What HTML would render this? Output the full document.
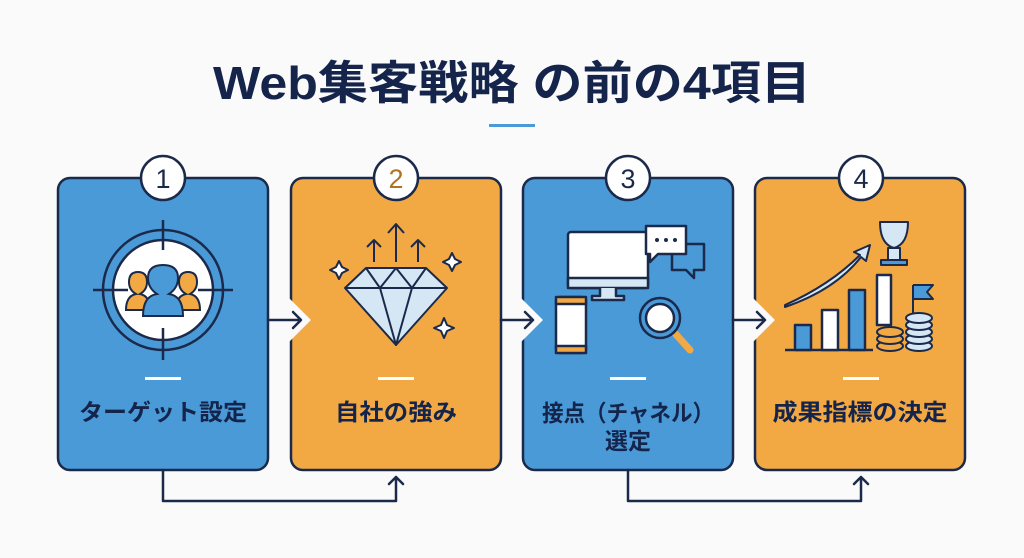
<!DOCTYPE html>
<html><head><meta charset="utf-8"><style>
body{margin:0;background:#fafafa;}
svg{display:block;font-family:"Liberation Sans","Noto Sans CJK JP",sans-serif;}
</style></head><body>
<svg width="1024" height="558" viewBox="0 0 1024 558" xmlns="http://www.w3.org/2000/svg">
<rect width="1024" height="558" fill="#fafafa"/>
<text x="512" y="99" text-anchor="middle" font-size="46" font-weight="bold" fill="#14244a" textLength="598" lengthAdjust="spacingAndGlyphs">Web集客戦略 の前の4項目</text>
<rect x="489" y="124" width="46" height="3" fill="#4a9ad8"/>

<g stroke="#1b2a4a" stroke-width="2.5">
<rect x="58" y="178" width="210" height="292" rx="12" fill="#4a9ad8"/>
<rect x="291" y="178" width="210" height="292" rx="12" fill="#f2a944"/>
<rect x="523" y="178" width="210" height="292" rx="12" fill="#4a9ad8"/>
<rect x="755" y="178" width="210" height="292" rx="12" fill="#f2a944"/>
</g>
<g fill="#fafafa">
<polygon points="289,298 311,320 289,342"/>
<polygon points="521,298 543,320 521,342"/>
<polygon points="753,298 775,320 753,342"/>
</g>
<g stroke="#1b2a4a" stroke-width="2.5" fill="none" stroke-linecap="round" stroke-linejoin="round">
<path d="M268 320 H300 M293 312 L301 320 L293 328"/>
<path d="M501 320 H532 M525 312 L533 320 L525 328"/>
<path d="M733 320 H764 M757 312 L765 320 L757 328"/>
<path d="M163 470 V501 H396 V477 M389 484 L396 477 L403 484"/>
<path d="M628 470 V501 H861 V477 M854 484 L861 477 L868 484"/>
</g>
<g stroke="#1b2a4a" stroke-width="2.5" fill="#fff">
<circle cx="163" cy="178" r="22"/><circle cx="396" cy="178" r="22"/>
<circle cx="628" cy="178" r="22"/><circle cx="861" cy="178" r="22"/>
</g>
<g font-size="27" text-anchor="middle" fill="#1b2a4a">
<text x="163" y="188">1</text><text x="396" y="188" fill="#b07420">2</text>
<text x="628" y="188">3</text><text x="861" y="188">4</text>
</g>
<g fill="#fff"><rect x="145" y="377" width="36" height="3"/><rect x="378" y="377" width="36" height="3"/><rect x="610" y="377" width="36" height="3"/><rect x="843" y="377" width="36" height="3"/></g>
<g font-size="23" font-weight="bold" fill="#14244a" text-anchor="middle" lengthAdjust="spacingAndGlyphs">
<text x="163" y="420" textLength="168" lengthAdjust="spacingAndGlyphs">ターゲット設定</text>
<text x="396" y="420" textLength="122" lengthAdjust="spacingAndGlyphs">自社の強み</text>
<text x="628" y="421" textLength="172" lengthAdjust="spacingAndGlyphs">接点（チャネル）</text>
<text x="628" y="449">選定</text>
<text x="860" y="420" textLength="175" lengthAdjust="spacingAndGlyphs">成果指標の決定</text>
</g>

<g stroke="#1b2a4a" stroke-width="2.5">
<circle cx="163" cy="290" r="60" fill="#4a9ad8"/>
<circle cx="163" cy="290" r="50" fill="#fff"/>
<path d="M93 290 H128 M198 290 H233 M163 220 V250 M163 328 V360" fill="none"/>
<path d="M126 310 q0-14 10-16 q-7-4-7-12 q0-10 9-10 q9 0 9 10 q0 8-7 12 q10 2 10 16z" fill="#f2a944" stroke-width="2"/>
<path d="M176 310 q0-14 10-16 q-7-4-7-12 q0-10 9-10 q9 0 9 10 q0 8-7 12 q10 2 10 16z" fill="#f2a944" stroke-width="2"/>
<path d="M143 316 q0-20 14-22 q-9-6-9-16 q0-13 15-13 q15 0 15 13 q0 10-9 16 q14 2 14 22z" fill="#4a9ad8" stroke-width="2"/>
</g>
<g stroke="#1b2a4a" stroke-width="2" stroke-linejoin="round">
<polygon points="345,288 366,268 426,268 447,288 396,345" fill="#d5e6f5"/>
<path d="M345 288 H447 M366 268 L380 288 L396 268 L412 288 L426 268 M380 288 L396 345 L412 288" fill="none"/>
<path d="M396 262 V225 M388 233 L396 224 L404 233 M374 262 V240 M367 247 L374 240 L381 247 M418 262 V240 M411 247 L418 240 L425 247" fill="none"/>
<path d="M339 261 l3 6 6 3-6 3-3 6-3-6-6-3 6-3z" fill="#fff"/>
<path d="M452 253 l3 6 6 3-6 3-3 6-3-6-6-3 6-3z" fill="#fff"/>
<path d="M444 318 l3 7 7 3-7 3-3 7-3-7-7-3 7-3z" fill="#fff"/>
</g>
<g stroke="#1b2a4a" stroke-width="2.5" stroke-linejoin="round">
<rect x="568" y="232" width="80" height="56" rx="3" fill="#fff"/>
<rect x="568" y="278" width="80" height="10" fill="#d5e6f5"/>
<path d="M600 288 v8 h-8 v4 h32 v-4 h-8 v-8" fill="#d5e6f5"/>
<rect x="556" y="297" width="30" height="56" rx="4" fill="#fff"/>
<rect x="556" y="297" width="30" height="7" fill="#f2a944"/><rect x="556" y="346" width="30" height="7" fill="#f2a944"/>
<path d="M672 244 h32 v26 h-10 v8 l-8-8 h-14z" fill="#4a9ad8"/>
<path d="M646 226 h40 v28 h-28 l-8 8 v-8 h-4z" fill="#fff"/>
<circle cx="657" cy="240" r="2" fill="#1b2a4a" stroke="none"/><circle cx="666" cy="240" r="2" fill="#1b2a4a" stroke="none"/><circle cx="675" cy="240" r="2" fill="#1b2a4a" stroke="none"/>
<path d="M672 330 L690 350" stroke="#f2a944" stroke-width="7" stroke-linecap="round"/>
<circle cx="660" cy="318" r="20" fill="#4a9ad8"/><circle cx="660" cy="318" r="14" fill="#fff"/>
</g>
<g stroke="#1b2a4a" stroke-width="2.5" stroke-linejoin="round">
<path d="M785 350 H873" fill="none"/>
<rect x="795" y="325" width="16" height="25" fill="#4a9ad8"/>
<rect x="822" y="310" width="16" height="40" fill="#fff"/>
<rect x="849" y="290" width="16" height="60" fill="#4a9ad8"/>
<rect x="877" y="275" width="14" height="50" fill="#fff"/>
<path d="M785 305 Q830 285 860 255 l-6 -3 l16 -7 -4 16 -5 -4 Q835 290 785 307z" fill="#d5e6f5" stroke-width="2"/>
<path d="M880 222 h28 q0 22 -14 26 q-14 -4 -14 -26z M888 248 h12 v12 h-12z" fill="#d5e6f5" stroke-width="2"/>
<rect x="881" y="260" width="26" height="5" fill="#4a9ad8" stroke-width="2"/>
<path d="M913 315 V285 M913 285 h20 l-6 7 6 7 h-20" fill="#4a9ad8" stroke-width="2"/>
<g fill="#f2a944" stroke-width="2"><ellipse cx="890" cy="346" rx="13" ry="5"/><ellipse cx="890" cy="339" rx="13" ry="5"/><ellipse cx="890" cy="332" rx="13" ry="5"/></g>
<g fill="#d5e6f5" stroke-width="2"><ellipse cx="919" cy="346" rx="13" ry="5"/><ellipse cx="919" cy="339" rx="13" ry="5"/><ellipse cx="919" cy="332" rx="13" ry="5"/><ellipse cx="919" cy="325" rx="13" ry="5"/><ellipse cx="919" cy="318" rx="13" ry="5"/></g>
</g>
</svg>
</body></html>
